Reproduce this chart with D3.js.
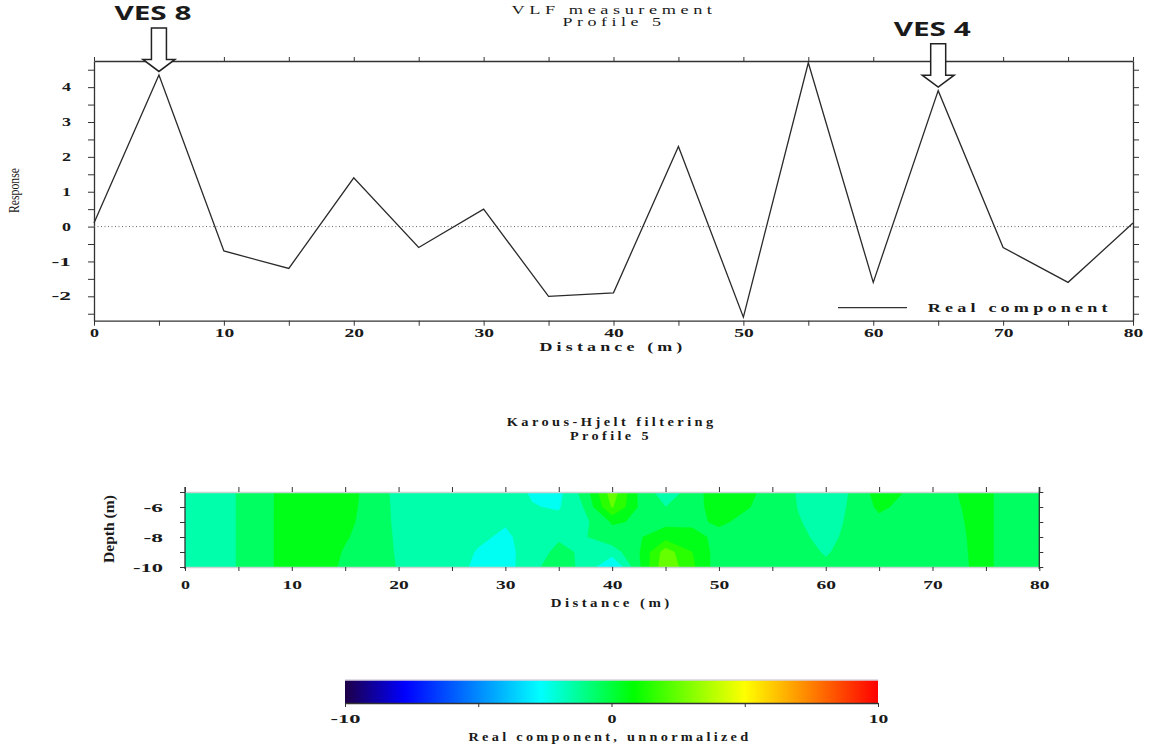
<!DOCTYPE html>
<html><head><meta charset="utf-8">
<script src="https://cdn.jsdelivr.net/npm/d3@7"></script>
<style>
body{margin:0;background:#fff;}
svg{display:block;}
text{font-family:"Liberation Serif","Times New Roman",serif;fill:#1a1a1a;}
</style></head><body>
<svg id="c" width="1152" height="748"></svg>
<script>
// ---------- DATA ----------
const distance = [0,5,10,15,20,25,30,35,40,45,50,55,60,65,70,75,80];
const realComponent = [0.1,4.35,-0.7,-1.2,1.4,-0.6,0.5,-2.0,-1.9,2.3,-2.6,4.7,-1.6,3.9,-0.6,-1.6,0.1];

const topXTicks = [0,5,10,15,20,25,30,35,40,45,50,55,60,65,70,75,80];
const topXLabels = [0,10,20,30,40,50,60,70,80];
const topYTicks = [-2.5,-2,-1.5,-1,-0.5,0,0.5,1,1.5,2,2.5,3,3.5,4,4.5];
const topYLabels = [-2,-1,0,1,2,3,4];

const vesNames = ["VES 8","VES 4"];
const vesDistance = [5,65];

// Karous-Hjelt filtered section (grid: distance x depth)
const khDistance = [0,2.5,5,7.5,10,12.5,15,17.5,20,22.5,25,27.5,30,32.5,35,37.5,40,42.5,45,47.5,50,52.5,55,57.5,60,62.5,65,67.5,70,72.5,75,77.5,80];
const khDepth = [-5,-6,-7,-8,-9,-10];
const khRow5  = [-1.5,-1.5,-0.95,-0.3,0.6,0.6,0.5,-0.45,-1.3,-1.5,-1.5,-1.5,-1.6,-2.1,-2.3,-0.5,2.6,-0.2,-1.6,-0.6,0.8,0.3,-0.4,-1.1,-1.6,-0.9,0.5,-0.05,-0.45,0.02,0.2,-0.5,-0.5];
const khRow6  = [-1.5,-1.5,-0.95,-0.3,0.6,0.6,0.4,-0.45,-1.25,-1.5,-1.5,-1.5,-1.7,-1.95,-2.1,-0.9,2.1,-0.1,-1.0,-0.5,0.6,0.1,-0.45,-1.05,-1.5,-0.85,0.2,-0.3,-0.45,-0.02,0.2,-0.5,-0.5];
const khRow7  = [-1.5,-1.5,-0.95,-0.3,0.6,0.6,0.3,-0.5,-1.2,-1.5,-1.5,-1.6,-1.9,-1.6,-1.7,-1.2,0.1,-0.1,-0.3,-0.3,0.2,-0.3,-0.5,-0.95,-1.4,-0.8,-0.3,-0.45,-0.45,-0.05,0.2,-0.5,-0.5];
const khRow8  = [-1.5,-1.5,-0.95,-0.3,0.6,0.6,0.1,-0.5,-1.15,-1.5,-1.5,-1.8,-2.2,-1.5,-1.1,-1.05,-0.4,-0.1,0.6,0.5,-0.4,-0.5,-0.5,-0.8,-1.3,-0.7,-0.45,-0.5,-0.45,-0.08,0.2,-0.5,-0.5];
const khRow9  = [-1.5,-1.5,-0.95,-0.3,0.6,0.6,-0.1,-0.55,-1.1,-1.5,-1.5,-2.1,-2.4,-1.4,-0.8,-1.15,-1.5,-0.1,2.5,1.0,-0.5,-0.5,-0.5,-0.6,-1.1,-0.6,-0.5,-0.5,-0.45,-0.1,0.2,-0.5,-0.5];
const khRow10 = [-1.5,-1.5,-0.95,-0.3,0.6,0.6,-0.25,-0.6,-1.05,-1.5,-1.5,-2.3,-2.5,-1.2,-0.6,-1.25,-3.2,-0.2,2.8,1.2,-0.6,-0.5,-0.5,-0.5,-0.8,-0.5,-0.5,-0.5,-0.45,-0.12,0.2,-0.5,-0.5];
const khLevels = [-4,-3,-2,-1,0,1,2,3];

const botXTicks = [0,5,10,15,20,25,30,35,40,45,50,55,60,65,70,75,80];
const botXLabels = [0,10,20,30,40,50,60,70,80];
const botYTicks = [-5,-6,-7,-8,-9,-10];
const botYLabels = [-6,-8,-10];

// colour scale
const cmapValues = [-10,-7.75,-2.66,0.83,5,10];
const cmapColors = ["#1e0047","#0000ff","#00ffff","#00ff00","#ffff00","#ff0000"];
const cbarTicks = [-10,-5,0,5,10];
const cbarLabels = [-10,0,10];

// ---------- DRAW ----------
const svg = d3.select("#c");
const colorMap = d3.scaleLinear().domain(cmapValues).range(cmapColors).clamp(true);

function addText(sel, t, x, y, o = {}) {
  const el = sel.append("text").attr("x", x).attr("y", y).text(t)
    .attr("text-anchor", o.anchor || "middle")
    .style("font-size", (o.size || 13) + "px")
    .style("font-weight", o.weight || "bold")
    .style("letter-spacing", (o.ls == null ? 3 : o.ls) + "px");
  if (o.len) el.attr("textLength", o.len).attr("lengthAdjust", o.adjust || "spacingAndGlyphs");
  if (o.family) el.style("font-family", o.family);
  if (o.rotate) el.attr("transform", `rotate(-90,${x},${y})`);
  return el;
}
function styleTickText(g, size) {
  g.selectAll(".tick text").each(function () {
    const s = this.textContent;
    const t = d3.select(this).style("font-size", size + "px").style("font-weight", "bold")
      .style("font-family", '"Liberation Serif", serif').attr("fill", "#1a1a1a");
    if (s.length) t.attr("textLength", s.length * 10.5 - 1.5).attr("lengthAdjust", "spacingAndGlyphs");
  });
}
function styleAxis(g, color, domainColor) {
  g.selectAll(".tick line").attr("stroke", color).attr("stroke-width", 1);
  g.select(".domain").attr("stroke", domainColor || color).attr("stroke-width", 1.3);
}

// ===== top chart =====
const xTop = d3.scaleLinear().domain([0, 80]).range([94, 1133]);
const yTop = d3.scaleLinear().domain([-2.7, 4.75]).range([320.7, 61]);
const fmtX = d => topXLabels.includes(d) ? String(d) : "";
const fmtY = d => topYLabels.includes(d) ? String(d) : "";

const gB = svg.append("g").attr("transform", "translate(0,320.7)")
  .call(d3.axisBottom(xTop).tickValues(topXTicks).tickFormat(fmtX).tickSize(5).tickSizeOuter(0));
gB.selectAll(".tick text").attr("y", 16.5).attr("dy", null);
styleAxis(gB, "#333"); styleTickText(gB, 12);

const gT = svg.append("g").attr("transform", "translate(0,61)")
  .call(d3.axisTop(xTop).tickValues(topXTicks).tickFormat("").tickSize(4).tickSizeOuter(0));
styleAxis(gT, "#333");

const gL = svg.append("g").attr("transform", "translate(94,0)")
  .call(d3.axisLeft(yTop).tickValues(topYTicks).tickFormat(fmtY).tickSize(6).tickSizeOuter(0));
gL.selectAll(".tick text").attr("x", -23).attr("dy", "0.3em");
styleAxis(gL, "#333"); styleTickText(gL, 12);

const gR = svg.append("g").attr("transform", "translate(1133,0)")
  .call(d3.axisRight(yTop).tickValues(topYTicks).tickFormat("").tickSize(6).tickSizeOuter(0));
styleAxis(gR, "#333");

// zero line
svg.append("line").attr("x1", xTop(0)).attr("x2", xTop(80)).attr("y1", yTop(0)).attr("y2", yTop(0))
  .attr("stroke", "#666").attr("stroke-width", 1).attr("stroke-dasharray", "1,2.5");

// profile line
svg.append("path").datum(distance.map((d, i) => [d, realComponent[i]]))
  .attr("d", d3.line().x(d => xTop(d[0])).y(d => yTop(d[1])))
  .attr("fill", "none").attr("stroke", "#2a2a2a").attr("stroke-width", 1.3);

// legend
svg.append("line").attr("x1", 838).attr("x2", 907).attr("y1", 307.7).attr("y2", 307.7)
  .attr("stroke", "#333").attr("stroke-width", 1.2);
addText(svg, "Real component", 927.7, 312, { anchor: "start", size: 13, len: 184 });

// titles
addText(svg, "VLF measurement", 614, 13.5, { size: 12, len: 205, weight: "normal" });
addText(svg, "Profile 5", 614, 25.5, { size: 12, len: 103, weight: "normal" });
addText(svg, "Distance (m)", 613, 350.5, { size: 13, len: 147 });
addText(svg, "Response", 19, 190.5, { size: 15, len: 45, weight: "normal", ls: 0, rotate: true });

// VES annotations
vesDistance.forEach((dv, i) => {
  const v = realComponent[distance.indexOf(dv)];
  const cx = xTop(dv);
  const tip = yTop(v) - 3.5;
  const base = tip - 51.5;
  const top = base + 8;
  const hh = 12, hw = 16, sw = 7.5;
  const pts = [[cx - sw, top], [cx + sw, top], [cx + sw, tip - hh], [cx + hw, tip - hh], [cx, tip],
               [cx - hw, tip - hh], [cx - sw, tip - hh]];
  svg.append("path").attr("d", d3.line()(pts) + "Z").attr("fill", "#fff")
    .attr("stroke", "#222").attr("stroke-width", 1.5).attr("stroke-linejoin", "miter");
  addText(svg, vesNames[i], cx - 6, base, { size: 20, len: 77, ls: 0,
    family: '"Open Sans", "DejaVu Sans", sans-serif' }).attr("fill", "#111");
});

// ===== bottom chart =====
const xBot = d3.scaleLinear().domain([0, 80]).range([185, 1039.3]);
const yBot = d3.scaleLinear().domain([-5, -10]).range([492, 567]);

const defs = svg.append("defs");
defs.append("clipPath").attr("id", "khclip").append("rect")
  .attr("x", xBot(0)).attr("y", yBot(-5)).attr("width", xBot(80) - xBot(0)).attr("height", yBot(-10) - yBot(-5));

const khRows = [khRow5, khRow6, khRow7, khRow8, khRow9, khRow10];
const nX = khDistance.length, nY = khDepth.length;
const gx = d3.scaleLinear().domain([0.5, nX - 0.5]).range([khDistance[0], khDistance[nX - 1]]);
const gy = d3.scaleLinear().domain([0.5, nY - 0.5]).range([khDepth[0], khDepth[nY - 1]]);
const contours = d3.contours().size([nX, nY]).thresholds(khLevels)(khRows.flat());
const proj = d3.geoTransform({ point(x, y) { this.stream.point(xBot(gx(x)), yBot(gy(y))); } });
const cpath = d3.geoPath(proj);
svg.append("g").attr("clip-path", "url(#khclip)")
  .selectAll("path").data(contours).join("path")
  .attr("d", cpath)
  .attr("fill", d => colorMap(d.value + 0.5))
  .attr("stroke", d => colorMap(d.value + 0.5)).attr("stroke-width", 0.4);

const fmtBX = d => botXLabels.includes(d) ? String(d) : "";
const fmtBY = d => botYLabels.includes(d) ? String(d) : "";

const bB = svg.append("g").attr("transform", "translate(0,567)")
  .call(d3.axisBottom(xBot).tickValues(botXTicks).tickFormat(fmtBX).tickSize(4).tickSizeOuter(0));
bB.selectAll(".tick text").attr("y", 22).attr("dy", null);
styleAxis(bB, "#333", "#c9d3d3"); styleTickText(bB, 12);

const bT = svg.append("g").attr("transform", "translate(0,492)")
  .call(d3.axisTop(xBot).tickValues(botXTicks).tickFormat("").tickSize(5).tickSizeOuter(0));
styleAxis(bT, "#333", "#c9d3d3");

const bL = svg.append("g").attr("transform", "translate(185,0)")
  .call(d3.axisLeft(yBot).tickValues(botYTicks).tickFormat(fmtBY).tickSize(5).tickSizeOuter(0));
bL.selectAll(".tick text").attr("x", -22).attr("dy", "0.35em");
styleAxis(bL, "#333"); styleTickText(bL, 12);
bL.select(".domain").attr("d", "M0,487V569");

const bR = svg.append("g").attr("transform", "translate(1039.3,0)")
  .call(d3.axisRight(yBot).tickValues(botYTicks).tickFormat("").tickSize(4).tickSizeOuter(0));
styleAxis(bR, "#333");
bR.select(".domain").attr("d", "M0,487V569");

addText(svg, "Karous-Hjelt filtering", 611.7, 425.5, { size: 12.5, len: 210 });
addText(svg, "Profile 5", 611, 439.5, { size: 12.5, len: 82 });
addText(svg, "Distance (m)", 611.7, 607, { size: 13, len: 122 });
addText(svg, "Depth (m)", 114, 529, { size: 14, len: 68, ls: 0, rotate: true });

// ===== colour bar =====
const cbX = d3.scaleLinear().domain([-10, 10]).range([345, 878]);
const grad = defs.append("linearGradient").attr("id", "cbgrad").attr("x1", "0%").attr("x2", "100%");
cmapValues.forEach((v, i) => grad.append("stop").attr("offset", ((v + 10) / 20 * 100) + "%").attr("stop-color", cmapColors[i]));
svg.append("rect").attr("x", cbX(-10)).attr("y", 680).attr("width", cbX(10) - cbX(-10)).attr("height", 23)
  .attr("fill", "url(#cbgrad)");
svg.append("line").attr("x1", cbX(-10)).attr("x2", cbX(10)).attr("y1", 680).attr("y2", 680)
  .attr("stroke", "#d8d0e0").attr("stroke-width", 1.5);
const cbA = svg.append("g").attr("transform", "translate(0,703)")
  .call(d3.axisBottom(cbX).tickValues(cbarTicks).tickFormat(d => cbarLabels.includes(d) ? String(d) : "").tickSize(4).tickSizeOuter(0));
cbA.selectAll(".tick text").attr("y", 20).attr("dy", null);
styleAxis(cbA, "#333"); styleTickText(cbA, 12);
addText(svg, "Real component, unnormalized", 610, 741, { size: 13, len: 283 });
</script>
</body></html>
